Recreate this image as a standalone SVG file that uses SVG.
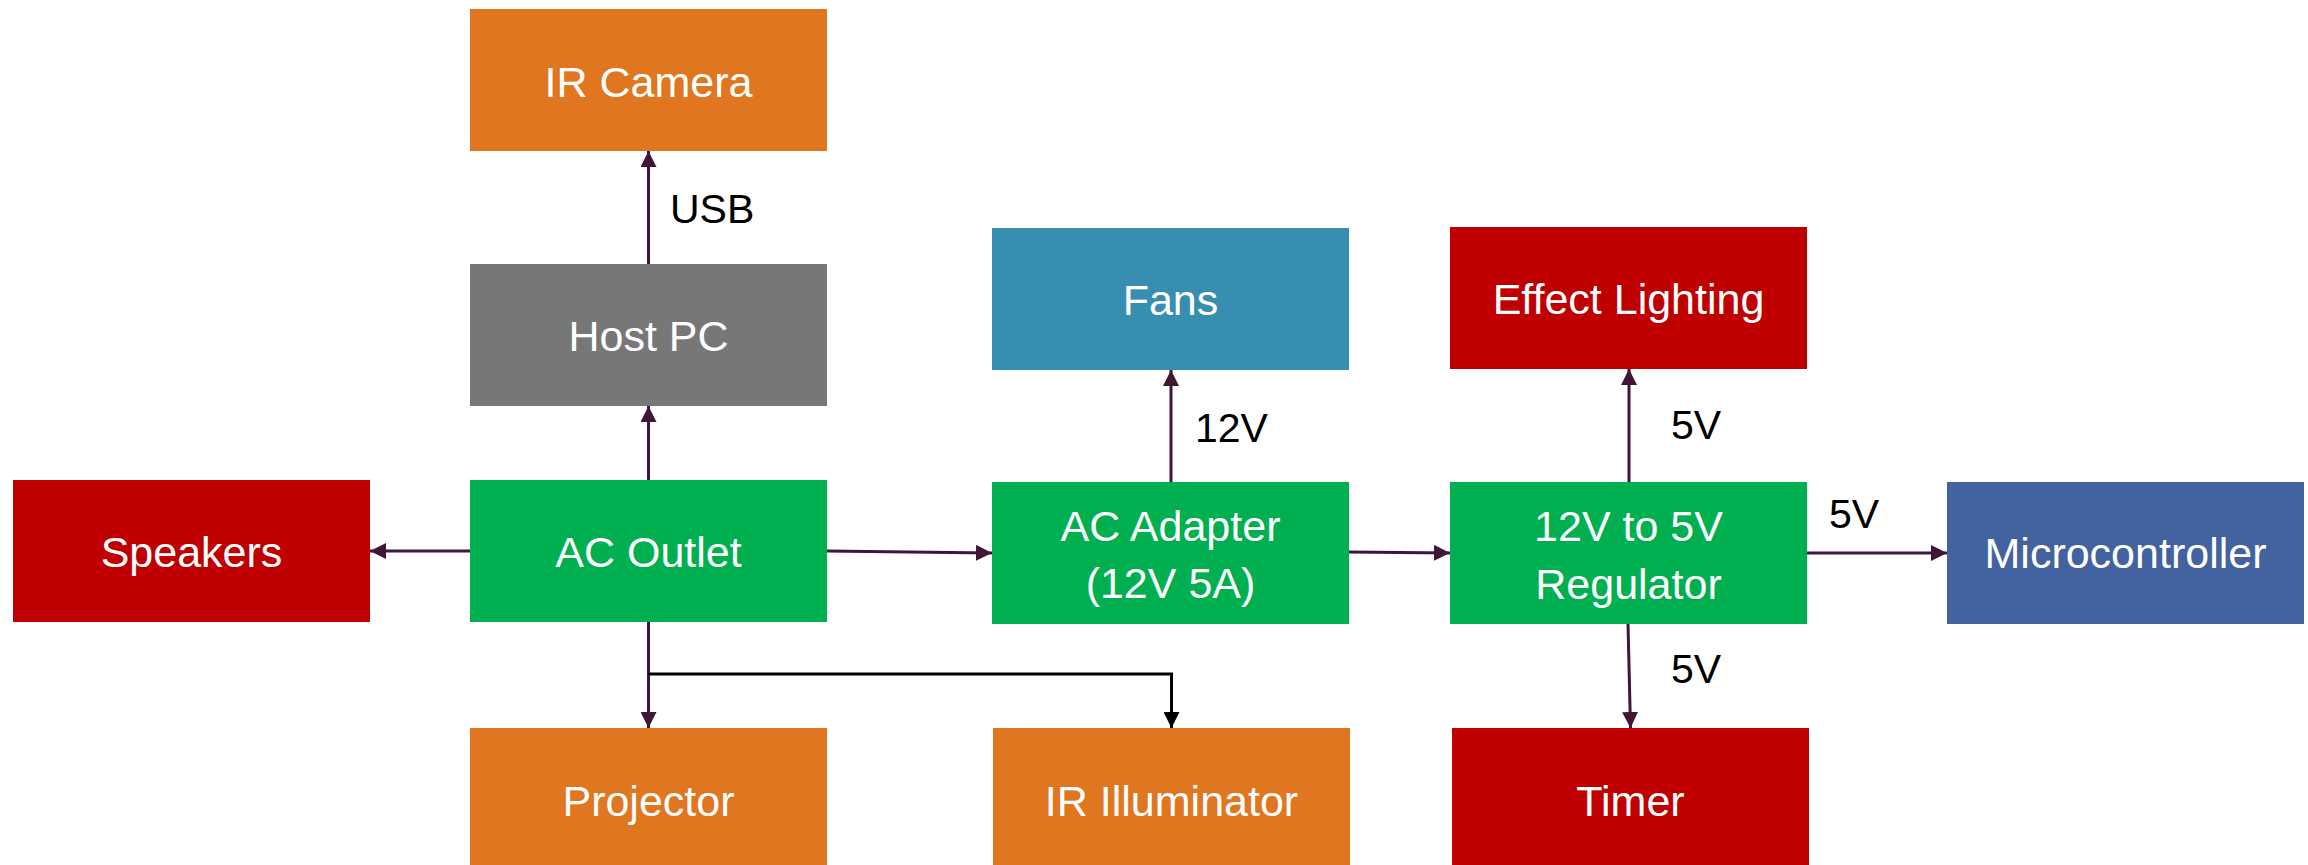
<svg xmlns="http://www.w3.org/2000/svg" width="2308" height="865" viewBox="0 0 2308 865">
<style>
.box text{font-family:"Liberation Sans",Arial,sans-serif;font-size:43px;fill:#ffffff;text-anchor:middle}
.lbl{font-family:"Liberation Sans",Arial,sans-serif;font-size:41px;fill:#000000}
.c{fill:none;stroke:#3f1636;stroke-width:3;marker-end:url(#ah)}
.k{fill:none;stroke:#000000;stroke-width:3}
.orange{fill:#E07620}.gray{fill:#777777}.green{fill:#00B050}.red{fill:#C00000}.teal{fill:#388EB1}.blue{fill:#4262A0}
</style>
<defs>
<marker id="ah" viewBox="0 0 16 16" refX="16" refY="8" markerWidth="16" markerHeight="16" markerUnits="userSpaceOnUse" orient="auto">
<path d="M0,0 L16,8 L0,16 z" fill="#3f1636"/>
</marker>
<marker id="ahk" viewBox="0 0 16 16" refX="16" refY="8" markerWidth="16" markerHeight="16" markerUnits="userSpaceOnUse" orient="auto">
<path d="M0,0 L16,8 L0,16 z" fill="#000000"/>
</marker>
</defs>
<g id="ir-camera" class="box"><rect class="orange" x="470" y="9" width="357" height="142"/><text x="648.5" y="97">IR Camera</text></g>
<g id="host-pc" class="box"><rect class="gray" x="470" y="264" width="357" height="142"/><text x="648.5" y="351">Host PC</text></g>
<g id="ac-outlet" class="box"><rect class="green" x="470" y="480" width="357" height="142"/><text x="648.5" y="567">AC Outlet</text></g>
<g id="speakers" class="box"><rect class="red" x="13" y="480" width="357" height="142"/><text x="191.5" y="567">Speakers</text></g>
<g id="projector" class="box"><rect class="orange" x="470" y="728" width="357" height="142"/><text x="648.5" y="816">Projector</text></g>
<g id="fans" class="box"><rect class="teal" x="992" y="228" width="357" height="142"/><text x="1170.5" y="315">Fans</text></g>
<g id="ac-adapter" class="box"><rect class="green" x="992" y="482" width="357" height="142"/><text x="1170.5" y="541">AC Adapter</text><text x="1170.5" y="598">(12V 5A)</text></g>
<g id="ir-illuminator" class="box"><rect class="orange" x="993" y="728" width="357" height="142"/><text x="1171.5" y="816">IR Illuminator</text></g>
<g id="effect-lighting" class="box"><rect class="red" x="1450" y="227" width="357" height="142"/><text x="1628.5" y="314">Effect Lighting</text></g>
<g id="regulator" class="box"><rect class="green" x="1450" y="482" width="357" height="142"/><text x="1628.5" y="541">12V to 5V</text><text x="1628.5" y="599">Regulator</text></g>
<g id="timer" class="box"><rect class="red" x="1452" y="728" width="357" height="142"/><text x="1630.5" y="816">Timer</text></g>
<g id="microcontroller" class="box"><rect class="blue" x="1947" y="482" width="357" height="142"/><text x="2125.5" y="568">Microcontroller</text></g>
<g id="connectors">
<path class="c" d="M648.5,264 L648.5,151"/>
<path class="c" d="M648.5,480 L648.5,406"/>
<path class="c" d="M470,551 L370,551"/>
<path class="c" d="M827,551 L992,553"/>
<path class="c" d="M648.5,622 L648.5,728"/>
<path class="k" d="M648.5,674 L1171.5,674 L1171.5,728" marker-end="url(#ahk)"/>
<path class="c" d="M1171,482 L1171,370"/>
<path class="c" d="M1349,552 L1450,553"/>
<path class="c" d="M1629,482 L1629,369"/>
<path class="c" d="M1807,553 L1947,553"/>
<path class="c" d="M1628,624 L1630.5,728"/>
<text class="lbl" x="670" y="223">USB</text>
<text class="lbl" x="1195" y="442">12V</text>
<text class="lbl" x="1671" y="439">5V</text>
<text class="lbl" x="1829" y="528">5V</text>
<text class="lbl" x="1671" y="683">5V</text>
</g>
</svg>
